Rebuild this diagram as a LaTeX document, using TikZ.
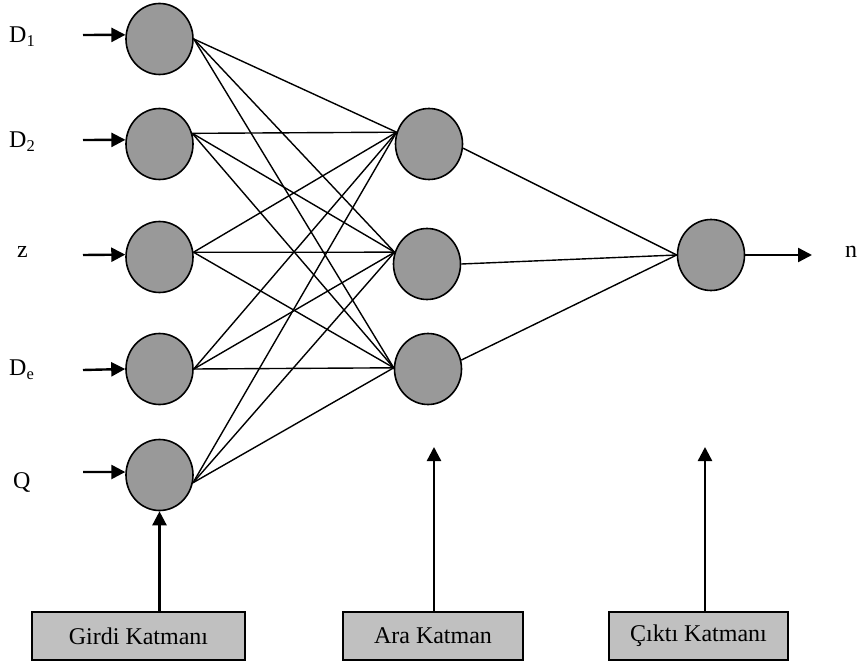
\documentclass[tikz,border=0pt]{standalone}
\usepackage{fontspec}
\setmainfont{Liberation Serif}
\usetikzlibrary{shapes.geometric,arrows.meta,calc}
\definecolor{neuron}{HTML}{999999}
\definecolor{boxgray}{HTML}{C0C0C0}
\newcommand{\sbs}[1]{{\fontsize{16.5}{16.5}\selectfont\raisebox{-4pt}{#1}}}
\begin{document}
\begin{tikzpicture}[x=1pt,y=-1pt,
  neuronnode/.style={ellipse,draw=black,line width=1.6pt,fill=neuron,minimum width=67pt,minimum height=71pt,inner sep=0pt},
  layerbox/.style={rectangle,draw=black,line width=1.7pt,fill=boxgray,minimum width=213pt,minimum height=48pt,inner sep=0pt,font=\fontsize{24}{28}\selectfont},
  lbl/.style={inner sep=0pt,anchor=base west,font=\fontsize{24}{28}\selectfont},
  conn/.style={line width=1.4pt,black},
  arr/.style={line width=2.4pt,black,-{Triangle[length=14pt,width=14pt]}}
]
\useasboundingbox (0,0) rectangle (859,663);
% input layer
\node[neuronnode] (i1) at (159.5,39) {};
\node[neuronnode] (i2) at (159.5,144) {};
\node[neuronnode] (i3) at (159.5,257) {};
\node[neuronnode] (i4) at (159.5,369) {};
\node[neuronnode] (i5) at (159.5,475) {};
% hidden layer
\node[neuronnode] (h1) at (429,144) {};
\node[neuronnode] (h2) at (427,264) {};
\node[neuronnode] (h3) at (428,369) {};
% output
\node[neuronnode] (o) at (711,255) {};
% labels
\node[lbl] (l1) at (9,43) {D\sbs{1}};
\node[lbl] (l2) at (9,148) {D\sbs{2}};
\node[lbl] (l3) at (17,257) {z};
\node[lbl] (l4) at (9,375) {D\sbs{e}};
\node[lbl] (l5) at (13,488) {Q};
\node[lbl] (ln) at (845,257) {n};
% input arrows
\coordinate (s1) at (83,35);
\coordinate (s2) at (83,140);
\coordinate (s3) at (83,255);
\coordinate (s4) at (83,370);
\coordinate (s5) at (83,472);
\draw[arr] (s1) -- (i1.173);
\draw[arr] (s2) -- (i2.173);
\draw[arr] (s3) -- (i3.176);
\draw[arr] (s4) -- (i4.west);
\draw[arr] (s5) -- (i5.175);
% input to hidden connections
\foreach \a/\ang in {i1/0,i2/18,i3/8,i4/0,i5/-13}{
  \draw[conn] (\a.\ang) -- (h1.160);
  \draw[conn] (\a.\ang) -- (h2.160);
  \draw[conn] (\a.\ang) -- (h3.178);
}
% hidden to output
\draw[conn] (h1.-7) -- (o.west);
\draw[conn] (h2.east) -- (o.west);
\draw[conn] (h3.15) -- (o.west);
% output arrow
\coordinate (oe) at (812,255);
\draw[arr] (o.east) -- (oe);
% layer boxes
\node[layerbox] (gb) at (138.5,636) {Girdi Katmanı};
\node[layerbox,minimum width=180pt] (ab) at (433,636) {Ara Katman};
\node[layerbox,minimum width=179pt] (cb) at (698.5,636) {Çıktı Katmanı};
\coordinate (at) at (434,447);
\coordinate (ct) at (705,447);
\draw[arr] (i5 |- gb.north) -- (i5.south);
\draw[arr] (at |- ab.north) -- (at);
\draw[arr] (ct |- cb.north) -- (ct);
\end{tikzpicture}
\end{document}
